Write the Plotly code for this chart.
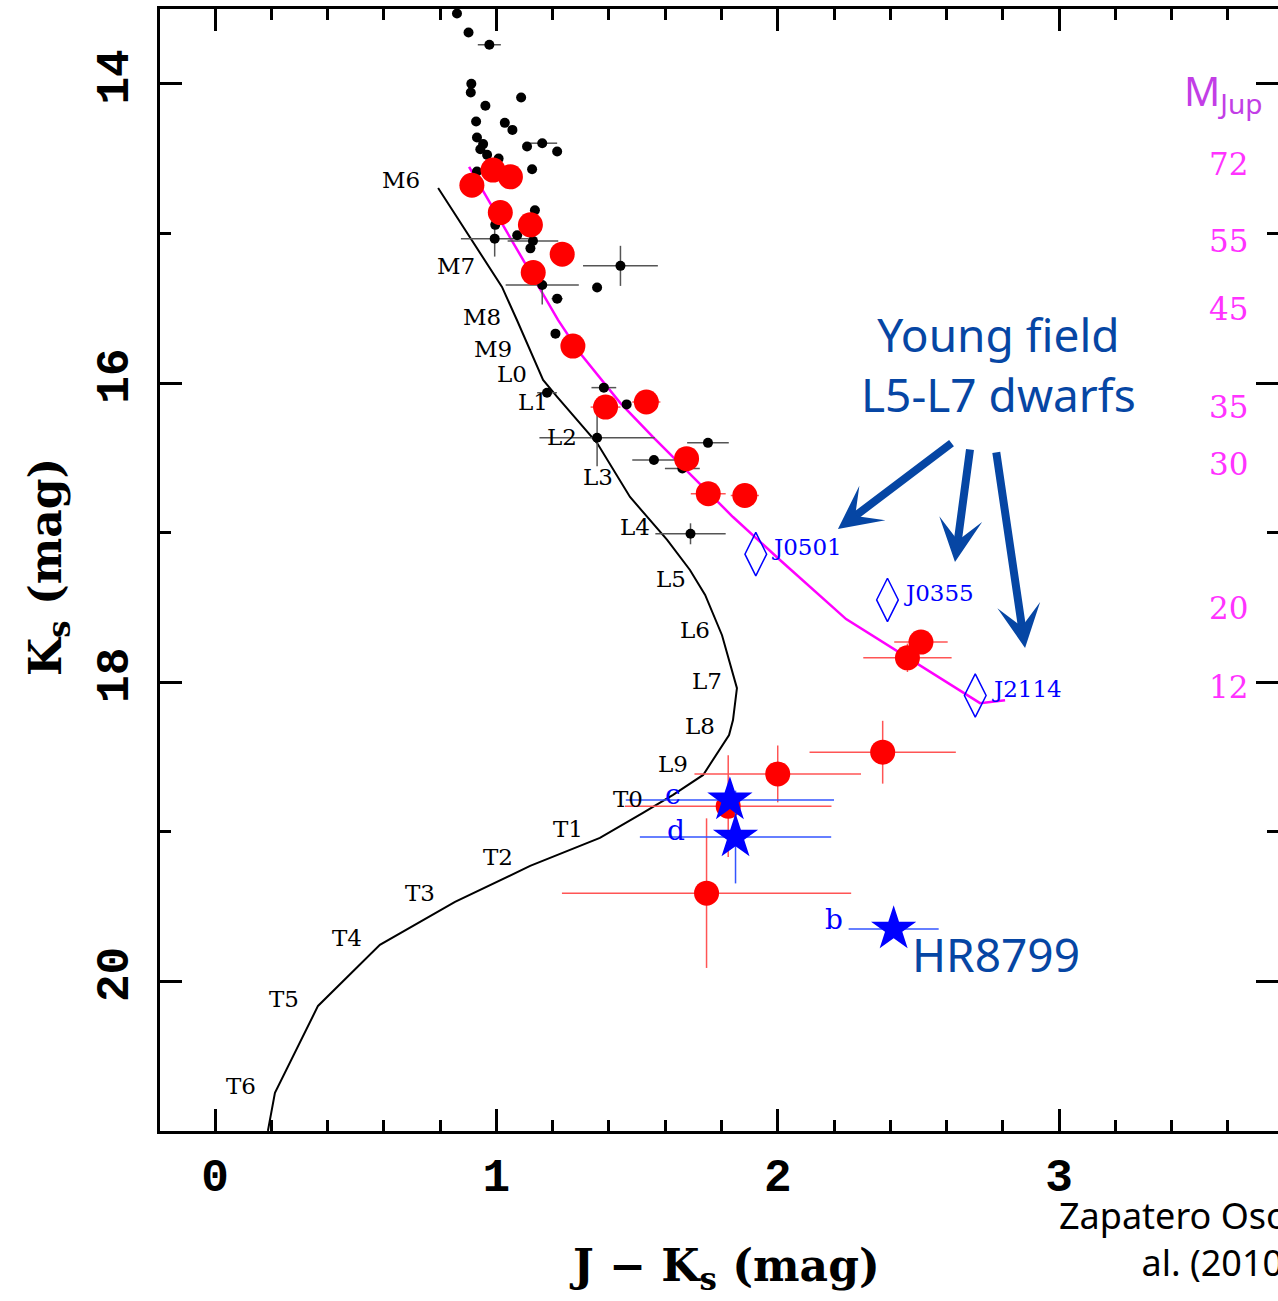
import plotly.graph_objects as go

# ---------------- data ----------------
# Field dwarf sequence (black curve)
seq_jk = [0.793, 0.995, 1.020, 1.073, 1.120, 1.166, 1.216, 1.358, 1.475, 1.607, 1.688, 1.742, 1.802,
          1.855, 1.841, 1.827, 1.735, 1.628, 1.521, 1.368, 1.120, 0.853, 0.586, 0.366, 0.213, 0.188]
seq_ks = [14.697, 15.278, 15.358, 15.579, 15.780, 15.980, 16.093, 16.401, 16.762, 17.049, 17.250, 17.417, 17.686,
          18.040, 18.253, 18.353, 18.620, 18.753, 18.874, 19.041, 19.228, 19.469, 19.756, 20.164, 20.745, 20.999]

sptype_labels = ["M6", "M7", "M8", "M9", "L0", "L1", "L2", "L3", "L4", "L5", "L6", "L7", "L8", "L9",
                 "T0", "T1", "T2", "T3", "T4", "T5", "T6"]
sptype_jk = [0.660, 0.856, 0.948, 0.988, 1.055, 1.130, 1.232, 1.362, 1.493, 1.619, 1.705, 1.747, 1.724, 1.628,
             1.469, 1.253, 1.004, 0.729, 0.469, 0.245, 0.092]
sptype_ks = [14.64, 15.22, 15.56, 15.77, 15.94, 16.13, 16.36, 16.63, 16.96, 17.31, 17.65, 17.99, 18.29, 18.55,
             18.78, 18.98, 19.17, 19.41, 19.71, 20.12, 20.70]

# Isochrone (magenta)
iso_jk = [0.903, 1.219, 1.297, 1.440, 1.557, 1.699, 1.841, 2.008, 2.243, 2.719, 2.808]
iso_ks = [14.556, 15.578, 15.799, 16.133, 16.361, 16.628, 16.896, 17.183, 17.578, 18.140, 18.120]

mass_labels = ["72", "55", "45", "35", "30", "20", "12"]
mass_ks = [14.535, 15.050, 15.505, 16.160, 16.540, 17.505, 18.033]

# Black dots (field / cluster members)
blk_jk = [0.860, 0.901, 0.975, 0.911, 0.909, 0.961, 1.088, 0.928, 1.030, 1.057, 0.931, 0.953, 0.943, 1.109,
          1.163, 1.216, 0.967, 1.008, 1.127, 0.931, 1.137, 0.996, 1.074, 0.994, 1.130, 1.121, 1.441, 1.358,
          1.163, 1.216, 1.210, 1.180, 1.382, 1.463, 1.358, 1.752, 1.560, 1.661, 1.690]
blk_ks = [13.530, 13.657, 13.739, 14.000, 14.058, 14.147, 14.092, 14.252, 14.261, 14.308, 14.359, 14.403,
          14.437, 14.419, 14.397, 14.453, 14.475, 14.500, 14.571, 14.586, 14.845, 14.943, 15.012, 15.035,
          15.050, 15.100, 15.217, 15.362, 15.345, 15.436, 15.670, 16.065, 16.031, 16.143, 16.366, 16.400,
          16.515, 16.571, 17.008]
blk_ejk = [0, 0, 0.041, 0, 0, 0, 0, 0, 0, 0, 0, 0, 0, 0, 0.053, 0, 0, 0, 0, 0, 0, 0, 0, 0.12, 0.09, 0,
           0.133, 0, 0.13, 0.02, 0, 0.035, 0.044, 0, 0.205, 0.074, 0.077, 0.062, 0.125]
blk_eks = [0, 0, 0, 0, 0, 0, 0, 0, 0, 0, 0, 0, 0, 0, 0, 0, 0, 0, 0, 0, 0, 0, 0, 0.12, 0, 0,
           0.134, 0, 0.13, 0, 0, 0, 0, 0, 0.19, 0, 0, 0, 0.07]

# Red dots (sigma Orionis members)
red_jk = [0.913, 0.988, 1.050, 1.014, 1.121, 1.234, 1.131, 1.272, 1.388, 1.533, 1.676, 1.753, 1.883,
          2.509, 2.461, 2.373, 2.000, 1.824, 1.747]
red_ks = [14.678, 14.577, 14.622, 14.861, 14.943, 15.139, 15.262, 15.753, 16.161, 16.127, 16.506, 16.740,
          16.752, 17.732, 17.837, 18.468, 18.613, 18.829, 19.410]
red_ejk = [0, 0, 0, 0, 0, 0, 0, 0, 0.053, 0.05, 0.03, 0.062, 0.05, 0.095, 0.157, 0.26, 0.296, 0.367, 0.514]
red_eks = [0, 0, 0, 0, 0, 0, 0, 0, 0, 0, 0, 0, 0, 0, 0.095, 0.21, 0.19, 0.34, 0.50]

# HR 8799 planets
hr_names = ["c", "d", "b"]
hr_jk = [1.830, 1.850, 2.412]
hr_ks = [18.787, 19.035, 19.650]
hr_ejk = [0.37, 0.34, 0.16]
hr_eks = [0.0, 0.31, 0.03]
hr_lab_jk = [1.626, 1.637, 2.199]
hr_lab_ks = [18.75, 18.99, 19.585]

# Young field L5-L7 dwarfs
yf_names = ["J0501", "J0355", "J2114"]
yf_jk = [1.922, 2.390, 2.702]
yf_ks = [17.144, 17.450, 18.089]

# arrows (tail -> tip)
arr_tail_jk = [2.623, 2.684, 2.776]
arr_tail_ks = [16.394, 16.434, 16.454]
arr_tip_jk = [2.214, 2.630, 2.879]
arr_tip_ks = [16.976, 17.196, 17.771]

# ---------------- figure ----------------
W, H = 1278, 1301
ML, MR, MT, MB = 160, 0, 9, 170
XR = [-0.1955, 3.778]
YR = [21.0, 13.5]

DARKBLUE = "#0646a4"
MAG = "#ff33ff"
SERIF = "DejaVu Serif"
HAND = "Noto Sans"


def px_x(p):
    return (p - ML) / (W - ML - MR)


def px_y(p):
    return (H - MB - p) / (H - MT - MB)


fig = go.Figure()

fig.add_trace(go.Scatter(x=seq_jk, y=seq_ks, mode="lines",
                         line=dict(color="black", width=2), hoverinfo="skip", showlegend=False))
fig.add_trace(go.Scatter(x=iso_jk, y=iso_ks, mode="lines",
                         line=dict(color="#ff00ff", width=2.5), hoverinfo="skip", showlegend=False))
fig.add_trace(go.Scatter(x=blk_jk, y=blk_ks, mode="markers",
                         marker=dict(color="black", size=10),
                         error_x=dict(type="data", array=blk_ejk, color="#555555", thickness=1.5, width=0),
                         error_y=dict(type="data", array=blk_eks, color="#555555", thickness=1.5, width=0),
                         showlegend=False))
fig.add_trace(go.Scatter(x=red_jk, y=red_ks, mode="markers",
                         marker=dict(color="#ff0000", size=25),
                         error_x=dict(type="data", array=red_ejk, color="#ff5555", thickness=1.5, width=0),
                         error_y=dict(type="data", array=red_eks, color="#ff5555", thickness=1.5, width=0),
                         showlegend=False))
fig.add_trace(go.Scatter(x=hr_jk, y=hr_ks, mode="markers",
                         marker=dict(color="#0000ff", size=34, symbol="star"),
                         error_x=dict(type="data", array=hr_ejk, color="#3355ff", thickness=1.5, width=0),
                         error_y=dict(type="data", array=hr_eks, color="#3355ff", thickness=1.5, width=0),
                         showlegend=False))
fig.add_trace(go.Scatter(x=yf_jk, y=yf_ks, mode="markers",
                         marker=dict(color="#0000ff", size=31, symbol="diamond-tall-open",
                                     line=dict(width=1.5, color="#0000ff")),
                         showlegend=False))

# right-side tick marks (no line)
fig.add_trace(go.Scatter(x=[None], y=[None], yaxis="y2", showlegend=False))

ann = []
for t, x, y in zip(sptype_labels, sptype_jk, sptype_ks):
    ann.append(dict(x=x, y=y, text=t, showarrow=False, font=dict(family=SERIF, size=23, color="black")))
for t, x, y in zip(yf_names, yf_jk, yf_ks):
    ann.append(dict(x=x + 0.052, y=y - 0.045, text=t, showarrow=False, xanchor="left",
                    font=dict(family=SERIF, size=23, color="#0000ff")))
for t, x, y in zip(hr_names, hr_lab_jk, hr_lab_ks):
    ann.append(dict(x=x, y=y, text=t, showarrow=False, font=dict(family=SERIF, size=28, color="#0000ff")))
for t, y in zip(mass_labels, mass_ks):
    ann.append(dict(x=3.601, y=y, text=t, showarrow=False, font=dict(family=SERIF, size=31, color=MAG)))
ann.append(dict(x=3.584, y=14.06, text="M<sub>Jup</sub>", showarrow=False,
                font=dict(family=HAND, size=40, color="#c23ee6")))
ann.append(dict(x=2.785, y=15.875, text="Young field<br>L5-L7 dwarfs", showarrow=False, align="center",
                font=dict(family=HAND, size=46, color=DARKBLUE)))
ann.append(dict(x=2.775, y=19.82, text="HR8799", showarrow=False,
                font=dict(family=HAND, size=46, color=DARKBLUE)))
for tx, ty, hx, hy in zip(arr_tail_jk, arr_tail_ks, arr_tip_jk, arr_tip_ks):
    ann.append(dict(x=hx, y=hy, ax=tx, ay=ty, axref="x", ayref="y", text="", showarrow=True,
                    arrowhead=3, arrowwidth=8, arrowsize=0.9, arrowcolor=DARKBLUE))

# axis titles
ann.append(dict(xref="paper", yref="paper", x=px_x(724), y=px_y(1268), xanchor="center", yanchor="middle",
                text="J \u2212 K<sub>s</sub> (mag)", showarrow=False,
                font=dict(family=SERIF, size=44, color="black", weight="bold")))
ann.append(dict(xref="paper", yref="paper", x=px_x(48), y=px_y(567), xanchor="center", yanchor="middle",
                text="K<sub>s</sub> (mag)", showarrow=False, textangle=-90,
                font=dict(family=SERIF, size=44, color="black", weight="bold")))
ann.append(dict(xref="paper", yref="paper", x=px_x(1217), y=px_y(1239), xanchor="center", yanchor="middle",
                text="Zapatero Osorio et<br>al. (2010)", showarrow=False, align="center",
                font=dict(family=HAND, size=36, color="black")))

axis_common = dict(showgrid=False, zeroline=False, ticks="inside", tickwidth=3, ticklen=22,
                   tickcolor="black", linecolor="black", linewidth=3)

fig.update_layout(
    width=W, height=H,
    margin=dict(l=ML, r=MR, t=MT, b=MB),
    plot_bgcolor="white", paper_bgcolor="white",
    xaxis=dict(range=XR, dtick=1, tick0=0, showline=True, mirror="ticks",
               minor=dict(dtick=0.2, tick0=0, ticks="inside", ticklen=11, tickwidth=3, tickcolor="black"),
               tickfont=dict(family="Liberation Mono", size=46, color="black", weight="bold"),
               ticklabelstandoff=2, **axis_common),
    yaxis=dict(range=YR, dtick=2, tick0=14, showline=True, mirror=False, tickangle=-90,
               minor=dict(dtick=1, tick0=14, ticks="inside", ticklen=11, tickwidth=3, tickcolor="black"),
               tickfont=dict(family="Liberation Mono", size=46, color="black", weight="bold"),
               ticklabelstandoff=11, **axis_common),
    yaxis2=dict(range=YR, overlaying="y", side="right", dtick=2, tick0=14, showline=False,
                showticklabels=False, showgrid=False, zeroline=False, ticks="inside", tickwidth=3,
                ticklen=22, tickcolor="black",
                minor=dict(dtick=1, tick0=14, ticks="inside", ticklen=11, tickwidth=3, tickcolor="black")),
    annotations=ann,
    showlegend=False,
)

fig.write_html("out.html")
